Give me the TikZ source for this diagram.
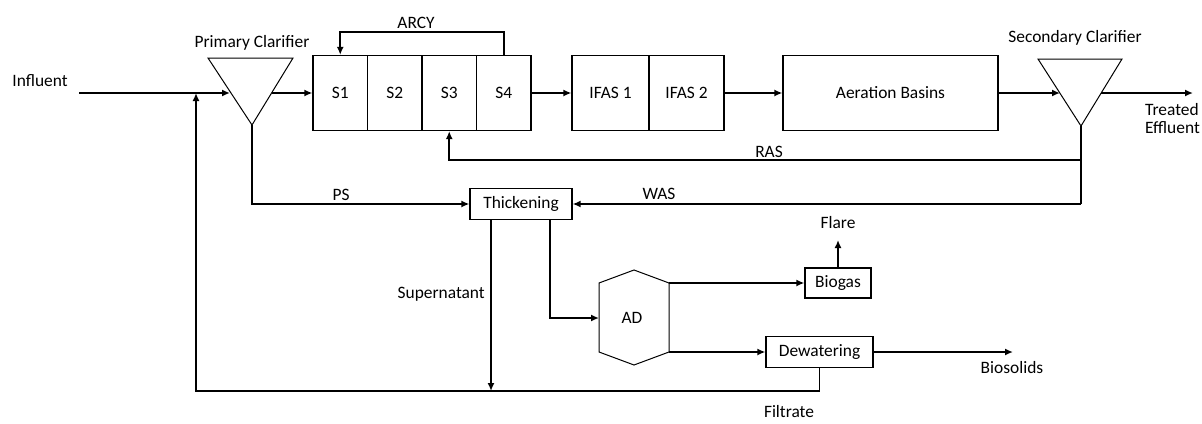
\documentclass[tikz,border=0pt]{standalone}
\usepackage{fontspec}
\setmainfont{Carlito}
\usetikzlibrary{arrows.meta}
\begin{document}
\begin{tikzpicture}[x=1pt,y=-1pt,
  font=\fontsize{17.4}{20}\selectfont,
  flow/.style={line width=1.9pt,-{Latex[length=8pt,width=7pt]}},
  plainflow/.style={line width=1.9pt},
  unit/.style={draw,line width=1.2pt,inner sep=0pt,minimum height=75pt},
  smallbox/.style={draw,line width=1.2pt,inner sep=0pt},
  lbl/.style={inner sep=0pt}]
\useasboundingbox (0,0) rectangle (1202,423);

% primary clarifier
\coordinate (pcTL) at (208,58);
\coordinate (pcTR) at (293,58);
\coordinate (pcB) at (252,125);
\draw[line width=1pt] (pcTL) -- (pcTR) -- (pcB) -- cycle;
\coordinate (pcIn) at (230,93);
\coordinate (pcOut) at (272,93);
\node[lbl] (pclbl) at (252,43) {Primary Clarifier};

% secondary clarifier
\coordinate (scTL) at (1038,59);
\coordinate (scTR) at (1122,59);
\coordinate (scB) at (1081,126);
\draw[line width=1pt] (scTL) -- (scTR) -- (scB) -- cycle;
\coordinate (scIn) at (1060,93);
\coordinate (scOut) at (1101,93);
\node[lbl] (sclbl) at (1075,38) {Secondary Clarifier};

% stage boxes
\node[unit,minimum width=54.5pt] (s1) at (340.25,93) {S1};
\node[unit,minimum width=54.5pt] (s2) at (394.75,93) {S2};
\node[unit,minimum width=54.5pt] (s3) at (449.25,93) {S3};
\node[unit,minimum width=54.5pt] (s4) at (503.75,93) {S4};
\node[unit,minimum width=77pt] (i1) at (610.5,93) {IFAS 1};
\node[unit,minimum width=75pt] (i2) at (686.5,93) {IFAS 2};
\node[unit,minimum width=215pt] (ab) at (890.5,93) {Aeration Basins};

% solids boxes
\node[smallbox,minimum width=102pt,minimum height=31pt] (th) at (521,204) {Thickening};
\node[smallbox,minimum width=66pt,minimum height=30pt] (bg) at (838,283) {Biogas};
\node[smallbox,minimum width=107pt,minimum height=31pt] (dw) at (819.5,352) {Dewatering};

% anaerobic digester
\coordinate (adNW) at (599,283);
\coordinate (adN) at (634,270);
\coordinate (adNE) at (669,283);
\coordinate (adSE) at (669,352);
\coordinate (adS) at (634,365);
\coordinate (adSW) at (599,352);
\coordinate (adW) at (599,318);
\draw[line width=1pt] (adNW) -- (adN) -- (adNE) -- (adSE) -- (adS) -- (adSW) -- cycle;
\node[lbl] (ad) at (632,317.5) {AD};

% coordinates for free ends and junctions
\coordinate (infStart) at (79,93);
\coordinate (recyIn) at (196,93);
\coordinate (filtL) at (196,391);
\coordinate (rasJ) at (1081,160);
\coordinate (wasJ) at (1081,204);
\coordinate (effEnd) at (1193,93);
\coordinate (supTop) at (491,219.5);
\coordinate (supEnd) at (491,391);
\coordinate (thAD) at (550,219.5);
\coordinate (flareEnd) at (838,240);
\coordinate (bioEnd) at (1013,352);

% main line
\draw[flow] (infStart) -- (pcIn);
\draw[flow] (pcOut) -- (s1.west);
\draw[flow] (s4.north) -- ++(0,-23) -| (s1.north);
\draw[flow] (s4.east) -- (i1.west);
\draw[flow] (i2.east) -- (ab.west);
\draw[flow] (ab.east) -- (scIn);
\draw[flow] (scOut) -- (effEnd);

% RAS / WAS
\draw[plainflow] (scB) -- (wasJ);
\draw[flow] (rasJ) -| (s3.south);
\draw[flow] (wasJ) -- (th.east);
\draw[flow] (pcB) |- (th.west);

% solids train
\draw[flow] (supTop) -- (supEnd);
\draw[flow] (thAD) |- (adW);
\draw[flow] (adNE) -- (bg.west);
\draw[flow] (bg.north) -- (flareEnd);
\draw[flow] (adSE) -- (dw.west);
\draw[flow] (dw.east) -- (bioEnd);
\draw[flow] (dw.south) |- (filtL) -- (recyIn);

% labels
\node[lbl] (linf) at (40,81) {Influent};
\node[lbl] (larcy) at (416,23) {ARCY};
\node[lbl,align=left,anchor=west] (leff) at (1145,118.5) {Treated\\[-2pt]Effluent};
\node[lbl] (lras) at (769,152) {RAS};
\node[lbl] (lwas) at (659,194) {WAS};
\node[lbl] (lps) at (341,195) {PS};
\node[lbl,anchor=east] (lsup) at (485,294) {Supernatant};
\node[lbl] (lflare) at (838,223) {Flare};
\node[lbl] (lbio) at (1012,368) {Biosolids};
\node[lbl] (lfilt) at (789,412) {Filtrate};
\end{tikzpicture}
\end{document}
